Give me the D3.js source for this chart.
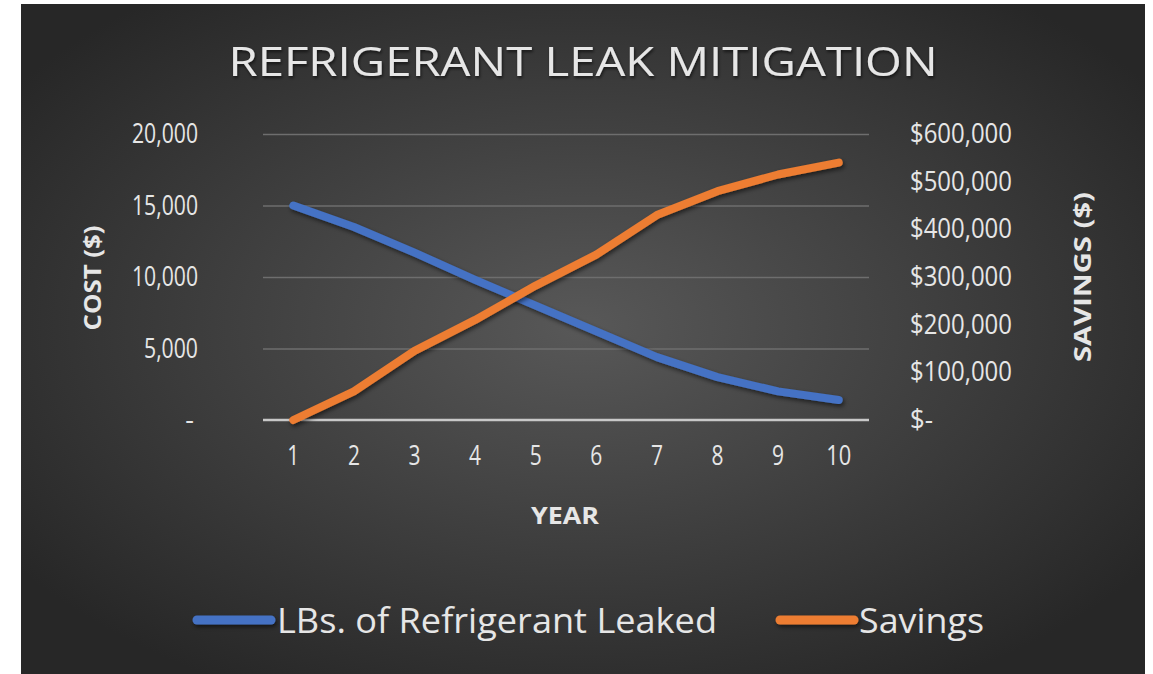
<!DOCTYPE html>
<html>
<head>
<meta charset="utf-8">
<script src="https://cdn.jsdelivr.net/npm/d3@7"></script>
<style>
  html, body { margin: 0; padding: 0; background: #ffffff; }
  svg { display: block; }
  text { font-family: "Open Sans", "Noto Sans", sans-serif; fill: #e6e6e6; }
</style>
</head>
<body>
<svg id="chart" width="1153" height="674"></svg>
<script>
// ---- data ----
const years = [1, 2, 3, 4, 5, 6, 7, 8, 9, 10];
const lbsLeaked = [15000, 13500, 11700, 9800, 8000, 6200, 4400, 3000, 2000, 1400];
const savings = [0, 60000, 145000, 210000, 282000, 347000, 430000, 480000, 515000, 540000];
const leftTicks = [0, 5000, 10000, 15000, 20000];
const rightTicks = [0, 100000, 200000, 300000, 400000, 500000, 600000];
const seriesNames = ["LBs. of Refrigerant Leaked", "Savings"];
const title = "REFRIGERANT LEAK MITIGATION";

const svg = d3.select("#chart");

// background
const defs = svg.append("defs");
const rg = defs.append("radialGradient").attr("id", "bg")
  .attr("cx", "50%").attr("cy", "48%").attr("r", "62%");
rg.append("stop").attr("offset", "0%").attr("stop-color", "#585858");
rg.append("stop").attr("offset", "100%").attr("stop-color", "#272727");
const f = defs.append("filter").attr("id", "shadow").attr("filterUnits", "userSpaceOnUse")
  .attr("x", 0).attr("y", 0).attr("width", 1153).attr("height", 674);
f.append("feDropShadow").attr("dx", 1.5).attr("dy", 2.5).attr("stdDeviation", 2).attr("flood-color", "#000").attr("flood-opacity", 0.55);
const tf = defs.append("filter").attr("id", "tshadow");
tf.append("feDropShadow").attr("dx", 1).attr("dy", 2).attr("stdDeviation", 1.5).attr("flood-color", "#000").attr("flood-opacity", 0.6);

svg.append("rect").attr("x", 21).attr("y", 4).attr("width", 1124).attr("height", 670).attr("fill", "url(#bg)");

const plotL = 263, plotR = 869, plotT = 134, plotB = 420;
const x = d3.scaleBand().domain(years).range([plotL, plotR]);
const xc = d => x(d) + x.bandwidth() / 2;
const yL = d3.scaleLinear().domain([0, 20000]).range([plotB, plotT]);
const yR = d3.scaleLinear().domain([0, 600000]).range([plotB, plotT]);

// gridlines
const gridAxis = d3.axisLeft(yL).tickValues(leftTicks.filter(v => v > 0)).tickSize(-(plotR - plotL)).tickFormat("");
const gg = svg.append("g").attr("transform", `translate(${plotL},0)`).call(gridAxis);
gg.select(".domain").remove();
gg.selectAll(".tick line").attr("stroke", "#6e6e6e").attr("stroke-width", 1.5);

// left axis labels
const fmtL = v => v === 0 ? "-" : d3.format(",")(v);
const la = d3.axisLeft(yL).tickValues(leftTicks).tickSize(0).tickPadding(0).tickFormat(fmtL);
const lg = svg.append("g").attr("transform", `translate(198,0)`).call(la);
lg.select(".domain").remove();
lg.selectAll(".tick text").attr("font-size", 27).attr("fill", "#e2e2e2")
  .attr("textLength", d => d === 0 ? null : (d >= 10000 ? 66 : 54))
  .attr("lengthAdjust", "spacingAndGlyphs")
  .attr("dx", d => d === 0 ? -4 : 0);

// right axis labels
const fmtR = v => v === 0 ? "$-" : "$" + d3.format(",")(v);
const ra = d3.axisRight(yR).tickValues(rightTicks).tickSize(0).tickPadding(0).tickFormat(fmtR);
const rgp = svg.append("g").attr("transform", `translate(910,0)`).call(ra);
rgp.select(".domain").remove();
rgp.selectAll(".tick text").attr("font-size", 27).attr("fill", "#e2e2e2")
  .attr("textLength", d => d === 0 ? 23 : 102).attr("lengthAdjust", "spacingAndGlyphs");

// x axis baseline & labels
svg.append("line").attr("x1", plotL).attr("x2", plotR).attr("y1", plotB).attr("y2", plotB)
  .attr("stroke", "#c8c8c8").attr("stroke-width", 2.5);
const xa = d3.axisBottom(x).tickSize(0).tickPadding(0);
const xg = svg.append("g").attr("transform", `translate(0,${plotB + 33})`).call(xa);
xg.select(".domain").remove();
xg.selectAll(".tick text").attr("font-size", 27).attr("fill", "#e2e2e2").attr("dy", "0.45em")
  .attr("textLength", d => d === 10 ? 25 : 12).attr("lengthAdjust", "spacingAndGlyphs");

// axis titles
svg.append("text").attr("x", 565).attr("y", 524).attr("text-anchor", "middle")
  .attr("font-size", 23).attr("font-weight", "bold").attr("fill", "#e0e0e0")
  .attr("textLength", 68).attr("lengthAdjust", "spacingAndGlyphs").text("YEAR");
svg.append("text").attr("transform", "translate(101,278) rotate(-90)").attr("text-anchor", "middle")
  .attr("font-size", 23).attr("font-weight", "bold").attr("fill", "#e0e0e0")
  .attr("textLength", 105).attr("lengthAdjust", "spacingAndGlyphs").text("COST ($)");
svg.append("text").attr("transform", "translate(1091,277) rotate(-90)").attr("text-anchor", "middle")
  .attr("font-size", 23).attr("font-weight", "bold").attr("fill", "#e0e0e0")
  .attr("textLength", 170).attr("lengthAdjust", "spacingAndGlyphs").text("SAVINGS ($)");

// title
svg.append("text").attr("x", 583).attr("y", 76).attr("text-anchor", "middle")
  .attr("font-size", 40).attr("font-weight", 500).attr("fill", "#f2f2f2").attr("filter", "url(#tshadow)")
  .attr("textLength", 709).attr("lengthAdjust", "spacingAndGlyphs").text(title);

// lines
const colors = ["#4472C4", "#ED7D31"];
const lineL = d3.line().x((d, i) => xc(years[i])).y(d => yL(d));
const lineR = d3.line().x((d, i) => xc(years[i])).y(d => yR(d));
svg.append("path").datum(lbsLeaked).attr("d", lineL).attr("fill", "none")
  .attr("stroke", colors[0]).attr("stroke-width", 8).attr("stroke-linecap", "round").attr("stroke-linejoin", "round")
  .attr("filter", "url(#shadow)");
svg.append("path").datum(savings).attr("d", lineR).attr("fill", "none")
  .attr("stroke", colors[1]).attr("stroke-width", 8).attr("stroke-linecap", "round").attr("stroke-linejoin", "round")
  .attr("filter", "url(#shadow)");

// legend
const legY = 620;
const leg = [
  { name: seriesNames[0], color: colors[0], x1: 197, x2: 271, tx: 277, tl: 440 },
  { name: seriesNames[1], color: colors[1], x1: 780, x2: 854, tx: 859, tl: 125 }
];
leg.forEach(l => {
  svg.append("line").attr("x1", l.x1).attr("x2", l.x2).attr("y1", legY).attr("y2", legY)
    .attr("stroke", l.color).attr("stroke-width", 9).attr("stroke-linecap", "round").attr("filter", "url(#shadow)");
  svg.append("text").attr("x", l.tx).attr("y", legY).attr("dy", "0.36em")
    .attr("font-size", 35).attr("fill", "#e6e6e6")
    .attr("textLength", l.tl).attr("lengthAdjust", "spacingAndGlyphs").text(l.name);
});
</script>
</body>
</html>
